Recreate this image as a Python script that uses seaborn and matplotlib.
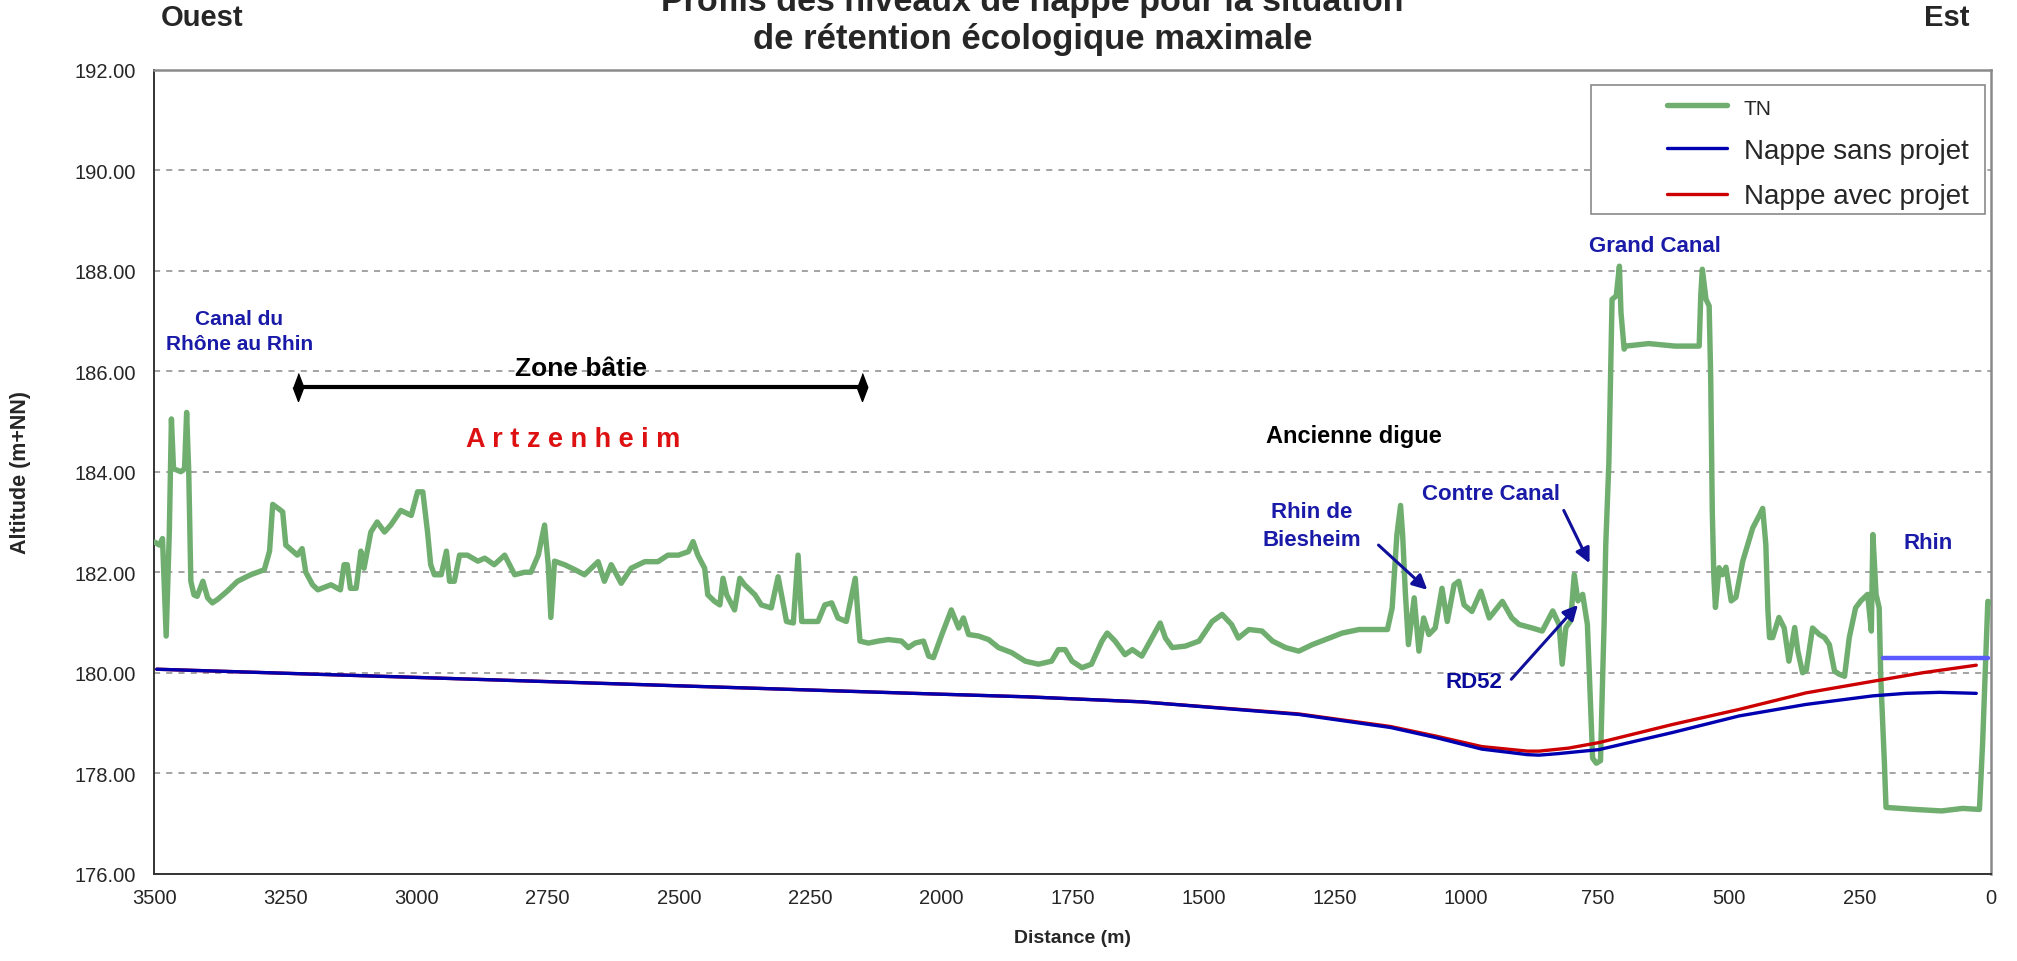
import matplotlib
matplotlib.use("Agg")
import matplotlib.pyplot as plt
import seaborn as sns
from matplotlib.patches import Rectangle
from matplotlib.ticker import FormatStrFormatter

# terrain naturel (TN), distance in m from the Rhine, altitude in m+NN
tn_dist = [
    3499, 3490, 3484, 3477, 3471, 3467, 3463, 3449, 3442, 3438, 3434, 3430, 3424, 3418,
    3407, 3398, 3389, 3379, 3361, 3341, 3316, 3290, 3280, 3274, 3261, 3255, 3249, 3227,
    3218, 3211, 3198, 3188, 3163, 3145, 3138, 3132, 3126, 3115, 3106, 3100, 3087, 3075,
    3061, 3049, 3030, 3010, 2998, 2988, 2979, 2973, 2966, 2953, 2943, 2937, 2928, 2918,
    2903, 2883, 2870, 2852, 2832, 2813, 2794, 2782, 2768, 2756, 2749, 2744, 2737, 2718,
    2698, 2680, 2654, 2642, 2629, 2610, 2591, 2565, 2540, 2521, 2501, 2482, 2473, 2464,
    2451, 2445, 2432, 2422, 2416, 2409, 2394, 2384, 2375, 2355, 2343, 2324, 2311, 2295,
    2282, 2273, 2266, 2254, 2235, 2222, 2209, 2197, 2181, 2164, 2158, 2155, 2139, 2120,
    2101, 2076, 2063, 2050, 2034, 2024, 2015, 1999, 1981, 1967, 1958, 1948, 1929, 1910,
    1891, 1866, 1840, 1815, 1790, 1777, 1764, 1751, 1732, 1714, 1694, 1684, 1669, 1650,
    1636, 1618, 1599, 1583, 1573, 1560, 1535, 1509, 1484, 1465, 1447, 1434, 1414, 1389,
    1369, 1344, 1319, 1293, 1268, 1236, 1204, 1172, 1150, 1141, 1132, 1125, 1121, 1116,
    1110, 1099, 1090, 1081, 1071, 1059, 1046, 1036, 1023, 1014, 1004, 989, 972, 956,
    931, 913, 899, 874, 855, 835, 823, 817, 810, 801, 794, 787, 778, 769,
    759, 752, 744, 740, 737, 734, 728, 725, 722, 714, 708, 705, 699, 696,
    652, 602, 556, 553, 550, 543, 537, 534, 531, 528, 525, 518, 512, 505,
    495, 486, 473, 454, 441, 435, 429, 425, 422, 416, 404, 394, 385, 374,
    368, 359, 352, 340, 327, 317, 308, 298, 289, 279, 270, 258, 248, 235,
    228, 225, 219, 213, 210, 203, 200, 145, 94, 54, 22, 16, 9, 6, 0,
]
tn_alt = [
    182.60, 182.54, 182.67, 180.73, 182.80, 185.05, 184.06, 184.00, 184.06, 185.18, 184.00, 181.82, 181.55, 181.52,
    181.82, 181.49, 181.39, 181.46, 181.62, 181.82, 181.95, 182.05, 182.42, 183.35, 183.25, 183.20, 182.54, 182.34,
    182.47, 182.00, 181.75, 181.65, 181.75, 181.65, 182.15, 182.15, 181.68, 181.68, 182.42, 182.08, 182.80, 183.00,
    182.80, 182.94, 183.23, 183.13, 183.60, 183.60, 182.80, 182.15, 181.95, 181.95, 182.42, 181.82, 181.82, 182.34,
    182.34, 182.22, 182.28, 182.15, 182.34, 181.95, 182.00, 182.00, 182.34, 182.94, 182.15, 181.10, 182.22, 182.15,
    182.05, 181.95, 182.21, 181.82, 182.15, 181.78, 182.08, 182.21, 182.21, 182.34, 182.34, 182.41, 182.61, 182.34,
    182.08, 181.55, 181.42, 181.35, 181.88, 181.55, 181.25, 181.88, 181.75, 181.55, 181.35, 181.29, 181.91, 181.02,
    180.99, 182.34, 181.02, 181.02, 181.02, 181.35, 181.39, 181.09, 181.02, 181.88, 181.02, 180.63, 180.59, 180.63,
    180.66, 180.63, 180.50, 180.59, 180.63, 180.33, 180.30, 180.76, 181.25, 180.89, 181.09, 180.76, 180.73, 180.66,
    180.50, 180.40, 180.23, 180.17, 180.23, 180.46, 180.46, 180.23, 180.10, 180.17, 180.63, 180.79, 180.63, 180.36,
    180.46, 180.33, 180.69, 180.99, 180.69, 180.50, 180.53, 180.63, 181.02, 181.16, 180.96, 180.69, 180.86, 180.83,
    180.63, 180.50, 180.43, 180.56, 180.66, 180.79, 180.86, 180.86, 180.86, 181.29, 182.74, 183.33, 182.74, 181.62,
    180.56, 181.49, 180.43, 181.09, 180.76, 180.89, 181.68, 181.02, 181.75, 181.82, 181.35, 181.22, 181.62, 181.09,
    181.42, 181.09, 180.96, 180.89, 180.83, 181.23, 180.96, 180.17, 180.90, 181.03, 181.95, 181.43, 181.56, 180.96,
    178.30, 178.20, 178.25, 179.90, 181.03, 182.55, 184.20, 185.85, 187.43, 187.50, 188.09, 187.17, 186.44, 186.50,
    186.55, 186.50, 186.50, 187.50, 188.03, 187.43, 187.30, 185.85, 183.20, 181.89, 181.30, 182.09, 181.95, 182.10,
    181.43, 181.50, 182.22, 182.88, 183.14, 183.27, 182.55, 181.23, 180.70, 180.70, 181.10, 180.89, 180.23, 180.90,
    180.43, 180.00, 180.05, 180.89, 180.76, 180.70, 180.56, 180.03, 179.97, 179.93, 180.70, 181.29, 181.43, 181.56,
    180.83, 182.75, 181.56, 181.29, 179.90, 178.18, 177.32, 177.28, 177.25, 177.30, 177.28, 178.58, 180.56, 181.42, 181.39,
]

# groundwater level without project
sans_dist = [3495, 3039, 2531, 2023, 1835, 1617, 1319, 1144, 1058, 970, 883, 861, 825, 796, 747, 607, 480, 352, 225, 162, 98, 28]
sans_alt = [180.07, 179.92, 179.75, 179.58, 179.52, 179.42, 179.17, 178.91, 178.71, 178.48, 178.37, 178.36, 178.39, 178.42, 178.47, 178.81, 179.14, 179.37, 179.54, 179.59, 179.61, 179.59]

# groundwater level with project
avec_dist = [3495, 3039, 2531, 2023, 1835, 1617, 1319, 1144, 1058, 970, 883, 861, 805, 747, 607, 480, 352, 225, 130, 28]
avec_alt = [180.07, 179.92, 179.75, 179.58, 179.52, 179.42, 179.18, 178.93, 178.74, 178.53, 178.44, 178.44, 178.50, 178.61, 178.97, 179.27, 179.60, 179.83, 180.00, 180.15]

# Rhine water level
rhin_dist = [206, 6]
rhin_alt = [180.30, 180.30]

# extent of the built-up zone
zone_dist = [3225, 2151]
zone_alt = [185.68, 185.68]

x_ticks = list(range(0, 3501, 250))
y_ticks = list(range(176, 193, 2))

sns.set_style("white")
plt.rcParams["font.family"] = ["Liberation Sans", "DejaVu Sans"]

fig = plt.figure(figsize=(20.17, 9.62), dpi=100)
ax = fig.add_axes([0.0764, 0.0907, 0.9107, 0.8358])

tn_color = "#70ae70"
blue_txt = "#1a1aa8"

sns.lineplot(x=tn_dist, y=tn_alt, sort=False, estimator=None, color=tn_color,
             linewidth=3.9, ax=ax, label="TN", zorder=3)
sns.lineplot(x=avec_dist, y=avec_alt, sort=False, estimator=None, color="#cc0000",
             linewidth=2.4, ax=ax, label="Nappe avec projet", zorder=4)
sns.lineplot(x=sans_dist, y=sans_alt, sort=False, estimator=None, color="#0000b0",
             linewidth=2.4, ax=ax, label="Nappe sans projet", zorder=5)
sns.lineplot(x=rhin_dist, y=rhin_alt, sort=False, estimator=None, color="#5a5aff",
             linewidth=3.2, ax=ax, zorder=4)

diamond = [(0, 1), (0.38, 0), (0, -1), (-0.38, 0)]
ax.plot(zone_dist, zone_alt, color="black", linewidth=3, marker=diamond,
        markersize=20, zorder=6)

ax.set_xlim(3500, 0)
ax.set_ylim(176, 192)
ax.set_xticks(x_ticks)
ax.set_yticks(y_ticks)
ax.yaxis.set_major_formatter(FormatStrFormatter("%.2f"))
ax.tick_params(axis="both", direction="out", length=5, width=1, color="black",
               labelsize=14.5)
ax.tick_params(axis="x", pad=5)
ax.tick_params(axis="y", pad=8)

ax.grid(axis="y", color="#8a8a8a", linestyle=(0, (4, 4)), linewidth=1.1)
ax.grid(axis="x", visible=False)
for side in ["top", "right"]:
    ax.spines[side].set_color("#8a8a8a")
    ax.spines[side].set_linewidth(1.8)
for side in ["left", "bottom"]:
    ax.spines[side].set_color("#333333")
    ax.spines[side].set_linewidth(1.4)

ax.set_xlabel("Distance (m)", fontsize=14, fontweight="bold")
ax.set_ylabel("Altitude (m+NN)", fontsize=15.5, fontweight="bold")
ax.xaxis.set_label_coords(0.5, -0.079)
ax.xaxis.label.set_va("center")
ax.yaxis.set_label_coords(-0.073, 0.5)
ax.yaxis.label.set_va("center")

# annotations
ax.text(3338, 186.81, "Canal du\nRhône au Rhin", color=blue_txt, fontsize=15,
        fontweight="bold", ha="center", va="center", linespacing=1.4)
ax.text(2686, 186.07, "Zone bâtie", color="black", fontsize=19,
        fontweight="bold", ha="center", va="center")
ax.text(2701, 184.65, "A r t z e n h e i m", color="#dd1111", fontsize=19.5,
        fontweight="bold", ha="center", va="center")
ax.text(1213, 184.72, "Ancienne digue", color="black", fontsize=17,
        fontweight="bold", ha="center", va="center")
ax.text(1294, 182.93, "Rhin de\nBiesheim", color=blue_txt, fontsize=16,
        fontweight="bold", ha="center", va="center", linespacing=1.4)
ax.text(953, 183.56, "Contre Canal", color=blue_txt, fontsize=16,
        fontweight="bold", ha="center", va="center")
ax.text(640, 188.5, "Grand Canal", color=blue_txt, fontsize=16,
        fontweight="bold", ha="center", va="center")
ax.text(120, 182.6, "Rhin", color=blue_txt, fontsize=16,
        fontweight="bold", ha="center", va="center")
ax.text(985, 179.82, "RD52", color="#0a0a9a", fontsize=16,
        fontweight="bold", ha="center", va="center")

arrow_kw = dict(arrowstyle="-|>", color="#10109a", lw=2.2, mutation_scale=22,
                shrinkA=0, shrinkB=0)
ax.annotate("", xy=(1074, 181.65), xytext=(1167, 182.54), arrowprops=arrow_kw, zorder=7)
ax.annotate("", xy=(765, 182.18), xytext=(814, 183.23), arrowprops=arrow_kw, zorder=7)
ax.annotate("", xy=(787, 181.35), xytext=(914, 179.87), arrowprops=arrow_kw, zorder=7)

# legend box drawn separately: the original has a wide blank margin left of the keys
ax.add_patch(Rectangle((0.782, 0.8205), 0.2147, 0.1605, transform=ax.transAxes,
                       facecolor="white", edgecolor="#8a8a8a", linewidth=1.2, zorder=8))
handles, labels = ax.get_legend_handles_labels()
order = [labels.index("TN"), labels.index("Nappe sans projet"), labels.index("Nappe avec projet")]
leg = ax.legend([handles[i] for i in order], [labels[i] for i in order],
                loc="upper right", bbox_to_anchor=(0.9877, 0.9685), borderaxespad=0,
                fontsize=20, frameon=False, handlelength=2.15, handletextpad=0.6,
                labelspacing=0.7, borderpad=0)
leg.set_zorder(9)
leg.get_texts()[0].set_fontsize(15)

# titles
fig.text(0.512, 0.997, "Profils des niveaux de nappe pour la situation",
         fontsize=24.5, fontweight="bold", ha="center", va="center")
fig.text(0.512, 0.959, "de rétention écologique maximale",
         fontsize=25, fontweight="bold", ha="center", va="center")
fig.text(0.100, 0.981, "Ouest", fontsize=21, fontweight="bold", ha="center", va="center")
fig.text(0.965, 0.981, "Est", fontsize=21, fontweight="bold", ha="center", va="center")

fig.savefig("out.png", dpi=100)
